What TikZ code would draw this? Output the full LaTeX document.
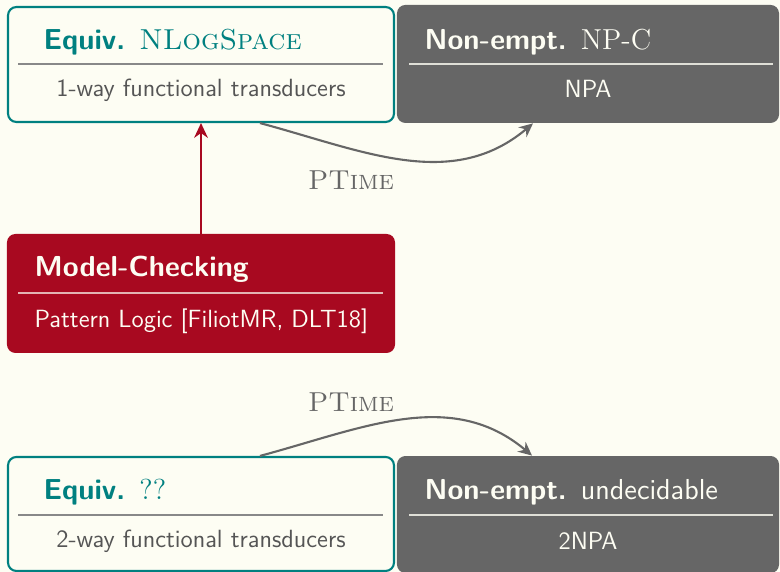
\documentclass[tikz,border=0pt]{standalone}
\usepackage{tikz}
\usepackage{amsmath}
\usetikzlibrary{arrows.meta}

\definecolor{bgcream}{RGB}{253,253,243}
\definecolor{eqteal}{RGB}{0,128,128}
\definecolor{negray}{RGB}{102,102,102}
\definecolor{mcred}{RGB}{168,9,32}
\definecolor{subgray}{RGB}{85,85,85}

\newcommand{\cplx}[1]{{\rmfamily\mdseries #1}}

\tikzset{
  box/.style={rounded corners=4pt, inner sep=0pt},
  eqbox/.style={box, draw=eqteal, line width=1pt, fill=bgcream},
  nebox/.style={box, fill=negray},
  mcbox/.style={box, fill=mcred},
  ttl/.style={font=\fontsize{13.7}{17}\selectfont\sffamily\bfseries, inner sep=0pt, anchor=base west},
  sub/.style={font=\fontsize{11.8}{14}\selectfont\sffamily, inner sep=0pt},
  ptlabel/.style={font=\fontsize{13}{16}\selectfont\rmfamily, text=negray, inner sep=0pt},
  sepline/.style={line width=0.6pt},
  ptarrow/.style={draw=negray, line width=1pt, -{Stealth[length=6.5pt, width=6pt]}},
  mcarrow/.style={draw=mcred, line width=1pt, -{Stealth[length=7pt, width=6.5pt]}}
}

\begin{document}
\begin{tikzpicture}
  \path[use as bounding box, fill=bgcream] (0,0) rectangle (13,9.533);

  % 1-way transducers
  \node[eqbox, minimum width=6.433cm, minimum height=1.917cm] (equiv1) at (3.35,8.458) {};
  \node[nebox, minimum width=6.367cm, minimum height=1.967cm] (nonempt1) at (9.8,8.467) {};
  \node[ttl, text=eqteal] (equiv1ttl) at (0.72,8.7) {Equiv. \cplx{\textsc{NLogSpace}}};
  \draw[sepline, subgray!70] (0.3,8.467) -- (6.383,8.467);
  \node[sub, anchor=base, text=subgray] (equiv1sub) at (3.35,7.917) {1-way functional transducers};
  \node[ttl, text=bgcream] (nonempt1ttl) at (7.07,8.7) {Non-empt. \cplx{NP-C}};
  \draw[sepline, bgcream!80!negray] (6.817,8.467) -- (12.883,8.467);
  \node[sub, anchor=base, text=bgcream] (nonempt1sub) at (9.8,7.9) {NPA};

  % Model-Checking
  \node[mcbox, minimum width=6.467cm, minimum height=1.983cm] (mc) at (3.35,4.642) {};
  \node[ttl, text=bgcream] (mcttl) at (0.57,4.922) {Model-Checking};
  \draw[sepline, bgcream!70!mcred] (0.3,4.65) -- (6.383,4.65);
  \node[sub, anchor=base west, text=bgcream] (mcsub) at (0.57,4.067) {Pattern Logic [FiliotMR, DLT18]};

  % 2-way transducers
  \node[eqbox, minimum width=6.433cm, minimum height=1.9cm] (equiv2) at (3.35,0.967) {};
  \node[nebox, minimum width=6.367cm, minimum height=1.95cm] (nonempt2) at (9.8,0.958) {};
  \node[ttl, text=eqteal] (equiv2ttl) at (0.72,1.2) {Equiv. \cplx{??}};
  \draw[sepline, subgray!70] (0.3,0.95) -- (6.383,0.95);
  \node[sub, anchor=base, text=subgray] (equiv2sub) at (3.35,0.4) {2-way functional transducers};
  \node[ttl, text=bgcream] (nonempt2ttl) at (7.07,1.2) {Non-empt. {\mdseries undecidable}};
  \draw[sepline, bgcream!80!negray] (6.817,0.95) -- (12.883,0.95);
  \node[sub, anchor=base, text=bgcream] (nonempt2sub) at (9.8,0.383) {2NPA};

  % Reductions
  \draw[mcarrow] (mc.north) -- (equiv1.south);
  \draw[ptarrow] ([xshift=0.983cm]equiv1.south) to[out=-15, in=-140] ([xshift=-0.917cm]nonempt1.south);
  \node[ptlabel] (pt1) at (5.85,6.53) {\textsc{PTime}};
  \draw[ptarrow] ([xshift=0.983cm]equiv2.north) to[out=15, in=140] ([xshift=-0.933cm]nonempt2.north);
  \node[ptlabel] (pt2) at (5.85,2.83) {\textsc{PTime}};
\end{tikzpicture}
\end{document}
